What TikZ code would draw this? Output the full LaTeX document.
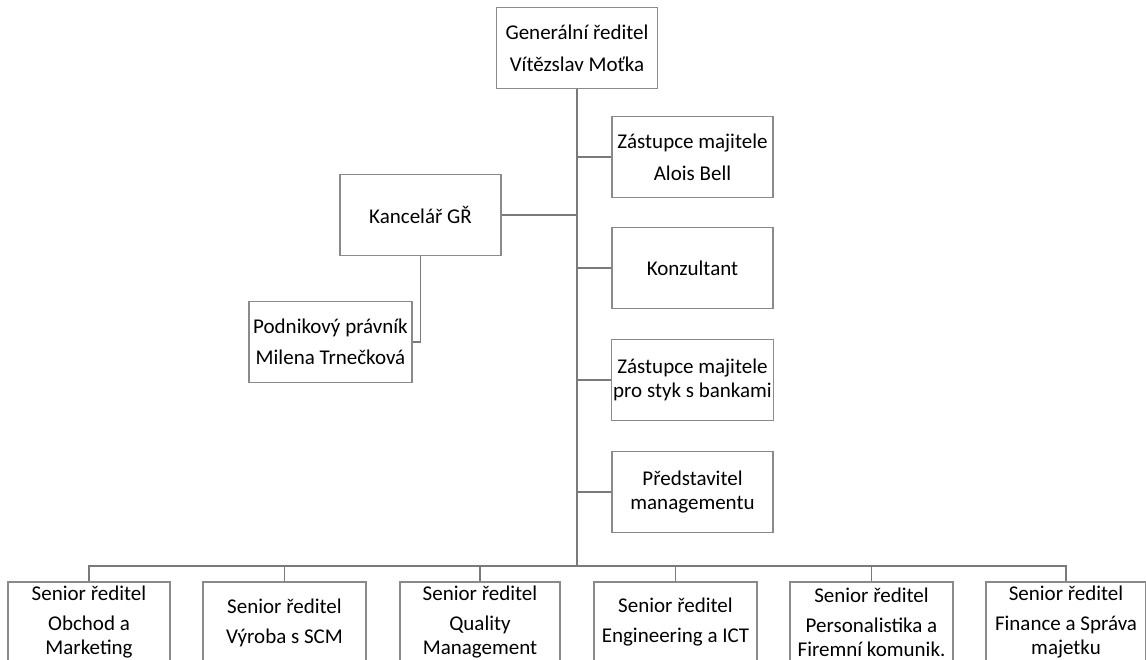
\documentclass[tikz,border=0pt]{standalone}
\usepackage{fontspec}
\setmainfont{Carlito}
\usepackage{tikz}
\usetikzlibrary{positioning,calc}
\definecolor{orgLine}{HTML}{7A7A7A}
\definecolor{orgBox}{HTML}{8A8A8A}
\tikzset{
  org/.style={draw=orgBox, line width=1.4pt, fill=white, align=center, inner sep=2pt,
    font=\fontsize{21}{24}\selectfont, minimum width=#1, minimum height=81pt},
  org/.default={161pt},
  link/.style={draw=orgLine, line width=1.5pt},
}
\begin{document}
\begin{tikzpicture}[x=1pt, y=-1pt]
\useasboundingbox (0,0) rectangle (1146,660);
\node[org] (gr) at (577,48) {Generální ředitel\\[8pt]Vítězslav Moťka};
\node[org] (zm) at (692.5,157) {Zástupce majitele\\[8pt]Alois Bell};
\node[org] (ko) at (692.5,268) {Konzultant};
\node[org] (zb) at (692.5,380) {Zástupce majitele\\pro styk s bankami};
\node[org] (pm) at (692.5,492) {Představitel\\managementu};
\node[org] (kg) at (420.5,215) {Kancelář GŘ};
\node[org, minimum width=163pt] (pp) at (330.5,342) {Podnikový právník\\[7pt]Milena Trnečková};
% senior directors
\node[org, minimum width=162pt] (s1) at (89,622.5) {Senior ředitel\\[6pt]Obchod a\\Marketing};
\node[org, minimum width=163pt] (s2) at (284.5,622.5) {Senior ředitel\\[6pt]Výroba s SCM};
\node[org, minimum width=160pt] (s3) at (480,622.5) {Senior ředitel\\[6pt]Quality\\Management};
\node[org, minimum width=163pt] (s4) at (675.5,622.5) {Senior ředitel\\[6pt]Engineering a ICT};
\node[org, minimum width=163pt] (s5) at (871.5,622.5) {Senior ředitel\\[6pt]Personalistika a\\Firemní komunik.};
\node[org, minimum width=160pt] (s6) at (1066,622.5) {Senior ředitel\\[6pt]Finance a Správa\\majetku};
% trunk and bus
\coordinate (bus) at (577,566);
\draw[link] (gr.south) -- (bus);
\draw[link] (s1.north) |- (bus) -| (s6.north);
\foreach \n in {s2,s3,s4,s5} \draw[link] (\n.north) -- (\n.north |- bus);
\foreach \n in {zm,ko,zb,pm} \draw[link] (\n.west) -- (\n.west -| gr.south);
\draw[link] (kg.east) -- (kg.east -| gr.south);
\draw[link] (kg.south) |- (pp.east);
\end{tikzpicture}
\end{document}
